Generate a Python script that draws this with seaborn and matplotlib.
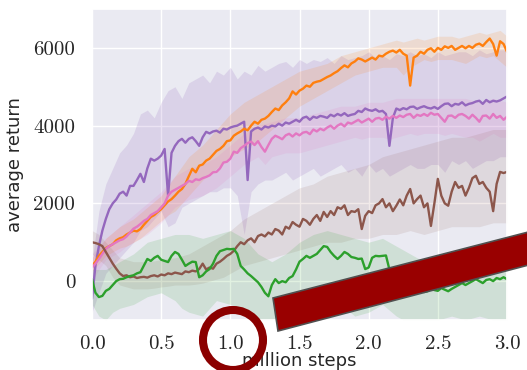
import numpy as np
import pandas as pd
import matplotlib
matplotlib.use("Agg")
import matplotlib.pyplot as plt
import seaborn as sns
from matplotlib.patches import Ellipse, Polygon

# ---------------- data ----------------
STEP = 0.025  # million steps between points of mean curves
purple = [-450, 400, 900, 1300, 1600, 1850, 2000, 2100, 2250, 2300,
          2200, 2450, 2450, 2600, 2760, 2550, 2900, 3150, 3100, 3150,
          3230, 3400, 2200, 3300, 3480, 3600, 3660, 3560, 3660, 3700,
          3600, 3480, 3700, 3840, 3800, 3850, 3870, 3820, 3920, 3900,
          3950, 3980, 4000, 4050, 4100, 2600, 3850, 3920, 3950, 3900,
          3980, 3950, 4000, 3980, 4050, 4000, 4080, 4050, 4100, 4150,
          4100, 4200, 4230, 4150, 4230, 4200, 4250, 4230, 4200, 4280,
          4240, 4300, 4260, 4320, 4250, 4280, 4300, 4380, 4350, 4440,
          4400, 4380, 4420, 4360, 4380, 4300, 3480, 4200, 4440, 4400,
          4450, 4420, 4480, 4490, 4430, 4470, 4500, 4460, 4440, 4480,
          4430, 4500, 4560, 4570, 4500, 4560, 4540, 4600, 4520, 4560,
          4580, 4620, 4640, 4560, 4660, 4600, 4640, 4620, 4650, 4700,
          4750]
orange = [390, 500, 650, 750, 850, 900, 950, 1050, 1100, 1130,
          1200, 1250, 1300, 1280, 1340, 1450, 1550, 1650, 1700, 1780,
          1850, 1950, 2050, 2110, 2200, 2300, 2370, 2500, 2700, 2890,
          2800, 2970, 3000, 3100, 3150, 3250, 3350, 3400, 3480, 3600,
          3620, 3740, 3800, 3850, 3920, 3880, 4000, 4100, 4050, 4150,
          4180, 4250, 4350, 4440, 4400, 4520, 4600, 4700, 4880, 4800,
          4900, 4950, 5030, 5000, 5100, 5130, 5150, 5200, 5250, 5290,
          5350, 5400, 5480, 5550, 5500, 5600, 5650, 5730, 5700, 5650,
          5700, 5750, 5700, 5800, 5780, 5850, 5900, 5930, 5880, 5950,
          5850, 5800, 5030, 5750, 5800, 5900, 5850, 5950, 5990, 5900,
          6000, 5950, 6040, 6000, 6050, 5950, 6000, 6050, 5990, 6050,
          6000, 6080, 6110, 6050, 6150, 6240, 6100, 5800, 6170, 6100,
          5900]
pink = [350, 450, 570, 700, 830, 900, 950, 1000, 1050, 1080,
        1150, 1250, 1350, 1400, 1470, 1550, 1600, 1700, 1750, 1800,
        1900, 2000, 2200, 2300, 2350, 2400, 2450, 2500, 2580, 2550,
        2620, 2600, 2650, 2680, 2720, 2800, 2810, 2900, 3050, 3070,
        3150, 3330, 3300, 3420, 3480, 3550, 3590, 3500, 3600, 3450,
        3330, 3500, 3660, 3740, 3700, 3650, 3750, 3790, 3720, 3800,
        3750, 3820, 3840, 3780, 3900, 3850, 3920, 3880, 3950, 4000,
        3920, 4000, 4050, 3980, 4080, 4050, 4100, 4150, 4080, 4130,
        4180, 4100, 4180, 4200, 4150, 4230, 4180, 4250, 4200, 4260,
        4220, 4280, 4300, 4200, 4280, 4250, 4300, 4250, 4330, 4280,
        4300, 4200, 4100, 4250, 4260, 4200, 4280, 4300, 4250, 4180,
        4280, 4200, 4100, 4250, 4260, 4180, 4300, 4200, 4250, 4150,
        4230]
brown = [1000, 980, 950, 900, 750, 600, 450, 320, 200, 130,
         150, 100, 120, 80, 100, 110, 90, 130, 150, 120,
         170, 150, 200, 180, 220, 200, 180, 250, 230, 270,
         250, 310, 450, 300, 350, 320, 450, 500, 570, 650,
         700, 780, 900, 1000, 950, 1050, 1100, 1000, 1160, 1200,
         1150, 1250, 1200, 1340, 1300, 1200, 1400, 1350, 1520, 1450,
         1400, 1600, 1550, 1450, 1600, 1700, 1550, 1780, 1650, 1800,
         1700, 1900, 1860, 1950, 1700, 1800, 1780, 1850, 1340, 1680,
         1800, 1750, 1950, 2000, 2110, 1900, 2000, 1800, 1940, 2100,
         1950, 2200, 2370, 2000, 2110, 2200, 1900, 2000, 1420, 2000,
         2630, 2200, 2000, 1940, 2300, 2550, 2400, 2450, 2200, 2400,
         2650, 2710, 2500, 2550, 2400, 2300, 1800, 2500, 2810, 2780,
         2810]
green = [50, -300, -410, -380, -250, -200, -100, 0, 50, 60,
         100, 130, 150, 200, 230, 400, 570, 520, 600, 650,
         550, 520, 490, 650, 750, 700, 550, 390, 450, 500,
         490, 100, 150, 250, 310, 450, 650, 770, 800, 830,
         820, 830, 700, 390, 300, 200, 130, 50, -30, -150,
         -300, -390, -100, 50, -50, 0, -30, 80, 130, 300,
         500, 570, 650, 600, 650, 700, 800, 900, 880, 750,
         650, 570, 650, 750, 700, 620, 600, 570, 580, 310,
         350, 600, 650, 640, 650, 660, 300, 0, -150, -200,
         -250, -200, -230, -260, -200, -250, -280, -260, -200, -230,
         -250, -180, -220, -260, -200, -150, -100, -50, -100, -50,
         0, 50, 0, -50, 30, 50, 0, 80, 50, 100,
         50]

BAND_STEP = 0.05  # million steps between points of the shaded bands
purple_lo = [-800, -300, 200, 400, 600, 800, 1000, 1300, 1400, 1600, 1800,
             1400, 1500, 1900, 2000, 2100, 2200, 2300, 2300, 2400, 2400,
             2200, 1200, 2300, 2500, 2600, 2600, 2700, 2800, 2600, 2700,
             2800, 2900, 2700, 2800, 2900, 3000, 2800, 2900, 2700, 3000,
             2800, 2900, 2700, 2800, 2900, 3000, 2900, 2900, 3000, 3000,
             2800, 3100, 3000, 3100, 2900, 3000, 3100, 3100, 3200, 3200]
purple_hi = [500, 1800, 2500, 2900, 3300, 3500, 3800, 4300, 4400, 4200,
             4600, 4900, 5000, 4700, 5100, 5200, 5300, 5100, 5400, 5300,
             5500, 5200, 5400, 5300, 5550, 5400, 5500, 5600, 5650, 5500,
             5700, 5600, 5700, 5650, 5750, 5600, 5800, 5700, 5750, 5800,
             5900, 5750, 5800, 5700, 5850, 5800, 5900, 5800, 5850, 5750,
             5900, 5800, 5850, 5900, 5900, 5800, 5950, 5850, 5900, 5950, 5950]
orange_lo = [250, 450, 650, 750, 850, 900, 1000, 1100, 1250, 1400, 1550,
             1700, 1800, 2000, 2200, 2400, 2600, 2750, 2900, 3050, 3200,
             3300, 3400, 3500, 3600, 3750, 3900, 4050, 4200, 4350, 4500,
             4600, 4700, 4800, 4900, 5000, 5100, 5200, 5300, 5350, 5400,
             5450, 5500, 5500, 5500, 5300, 5500, 5600, 5700, 5650, 5700,
             5700, 5700, 5650, 5600, 5700, 5800, 5750, 5800, 5650, 5500]
orange_hi = [600, 850, 1100, 1250, 1400, 1500, 1600, 1750, 1900, 2050, 2200,
             2450, 2700, 2950, 3200, 3350, 3500, 3700, 3900, 4100, 4300,
             4450, 4600, 4700, 4800, 4900, 5000, 5100, 5200, 5300, 5400,
             5450, 5500, 5550, 5600, 5700, 5800, 5850, 5900, 5950, 6000,
             6050, 6100, 6150, 6200, 6150, 6200, 6250, 6200, 6250, 6300,
             6300, 6300, 6250, 6300, 6350, 6400, 6350, 6400, 6450, 6300]
pink_lo = [0, 300, 550, 650, 750, 900, 1000, 1100, 1200, 1350, 1500,
           1700, 1900, 2000, 2100, 2150, 2200, 2300, 2400, 2550, 2700,
           2850, 3000, 3100, 3200, 3000, 3200, 3250, 3300, 3300, 3300,
           3350, 3400, 3450, 3500, 3550, 3600, 3650, 3700, 3650, 3700,
           3700, 3700, 3650, 3700, 3750, 3800, 3750, 3800, 3800, 3800,
           3750, 3800, 3750, 3700, 3700, 3600, 3700, 3800, 3700, 3700]
pink_hi = [700, 900, 1100, 1250, 1400, 1550, 1700, 1850, 2000, 2150, 2300,
           2500, 2700, 2800, 2900, 2950, 3000, 3100, 3200, 3350, 3500,
           3650, 3800, 3900, 4000, 4050, 4100, 4150, 4200, 4200, 4200,
           4250, 4300, 4350, 4400, 4450, 4500, 4500, 4500, 4550, 4600,
           4600, 4600, 4650, 4700, 4700, 4700, 4700, 4700, 4700, 4700,
           4700, 4700, 4700, 4700, 4650, 4600, 4650, 4700, 4650, 4600]
brown_lo = [700, 550, 400, 100, -100, -150, -200, -200, -200, -180, -150,
            -130, -100, -100, -100, -80, -50, 0, 50, 100, 200,
            300, 400, 450, 500, 550, 600, 650, 700, 750, 800,
            850, 900, 950, 1000, 1000, 1000, 1050, 1100, 1100, 1100,
            1150, 1200, 1200, 1200, 1250, 1300, 1250, 1200, 1250, 1300,
            1350, 1400, 1400, 1400, 1400, 1400, 1450, 1500, 1500, 1500]
brown_hi = [1300, 1200, 1000, 800, 600, 550, 500, 500, 500, 520, 550,
            580, 600, 650, 700, 800, 900, 1000, 1100, 1200, 1300,
            1450, 1600, 1700, 1800, 1900, 2000, 2100, 2200, 2300, 2400,
            2450, 2500, 2600, 2700, 2750, 2800, 2850, 2900, 2950, 3000,
            3100, 3200, 3250, 3300, 3350, 3400, 3450, 3500, 3550, 3600,
            3650, 3700, 3700, 3700, 3750, 3800, 3850, 3900, 3900, 3900]
green_lo = [-600, -900, -1000, -800, -700, -650, -600, -500, -400, -350,
            -300, -400, -500, -700, -800, -850, -900, -700, -500, -550,
            -600, -650, -700, -900, -1000, -1000, -1000, -900, -800, -700,
            -600, -650, -700, -750, -800, -700, -600, -750, -900, -850,
            -800, -700, -600, -750, -900, -1000, -1000, -1000, -1000, -1000,
            -1000, -950, -900, -950, -1000, -950, -900, -950, -1000, -1000, -1000]
green_hi = [300, 300, 300, 400, 500, 600, 700, 850, 1000, 1050, 1100,
            1150, 1200, 1200, 1200, 1150, 1100, 1150, 1200, 1250, 1300,
            1200, 1100, 900, 700, 600, 500, 600, 700, 850, 1000,
            1100, 1200, 1250, 1300, 1250, 1200, 1150, 1100, 1050, 1000,
            1050, 1100, 1000, 900, 800, 700, 600, 500, 550, 600,
            650, 700, 650, 600, 650, 700, 650, 600, 650, 700]

x_ticks = [0.0, 0.5, 1.0, 1.5, 2.0, 2.5, 3.0]
y_ticks = [0, 2000, 4000, 6000]

series = {
    "purple": (purple, purple_lo, purple_hi, "#9467bd", 0.18),
    "orange": (orange, orange_lo, orange_hi, "#ff7f0e", 0.14),
    "pink": (pink, pink_lo, pink_hi, "#e377c2", 0.14),
    "brown": (brown, brown_lo, brown_hi, "#8c564b", 0.12),
    "green": (green, green_lo, green_hi, "#2ca02c", 0.14),
}

# ---------------- figure ----------------
sns.set_theme(style="darkgrid")
plt.rcParams["axes.unicode_minus"] = False

W, H, DPI = 527, 370, 100
fig = plt.figure(figsize=(W / DPI, H / DPI), dpi=DPI)
ax = fig.add_axes([92 / W, 1 - 320 / H, (507 - 92) / W, (320 - 9) / H])

rows = []
for name, (mean, lo, hi, col, a) in series.items():
    for i, v in enumerate(mean):
        rows.append({"step": round(i * STEP, 4), "ret": v, "algo": name})
df = pd.DataFrame(rows)

for name, (mean, lo, hi, col, a) in series.items():
    bx = [round(i * BAND_STEP, 4) for i in range(len(lo))]
    ax.fill_between(bx, lo, hi, color=col, alpha=a, lw=0)

palette = {k: v[3] for k, v in series.items()}
sns.lineplot(data=df, x="step", y="ret", hue="algo", palette=palette,
             legend=False, lw=1.7, ax=ax)

ax.set_xlim(0, 3.0)
ax.set_ylim(-1000, 7000)
ax.set_xticks(x_ticks)
ax.set_yticks(y_ticks)
ax.set_xticklabels([f"{t:.1f}" for t in x_ticks], family="cmr10", fontsize=15)
ax.set_yticklabels([str(t) for t in y_ticks], family="cmr10", fontsize=15)
ax.tick_params(axis="x", pad=5)
ax.tick_params(axis="y", pad=6)
ax.set_xlabel("million steps", fontsize=13, labelpad=-1, family="DejaVu Sans")
ax.set_ylabel("average return", fontsize=13, labelpad=7, family="DejaVu Sans")

# ---------------- red annotations (overlay in pixel space) ----------------
ov = fig.add_axes([0, 0, 1, 1], facecolor="none")
ov.set_xlim(0, W)
ov.set_ylim(H, 0)
ov.axis("off")
ov.add_patch(Ellipse((233, 340), 60, 60, fill=False, edgecolor="#8b0000",
                     lw=5.8, clip_on=False))
ov.add_patch(Polygon([(273, 298), (278, 331), (540, 262), (540, 229)],
                     closed=True, facecolor="#990000", edgecolor="#505050",
                     lw=1.2, clip_on=False))

fig.savefig("out.png", dpi=DPI)
